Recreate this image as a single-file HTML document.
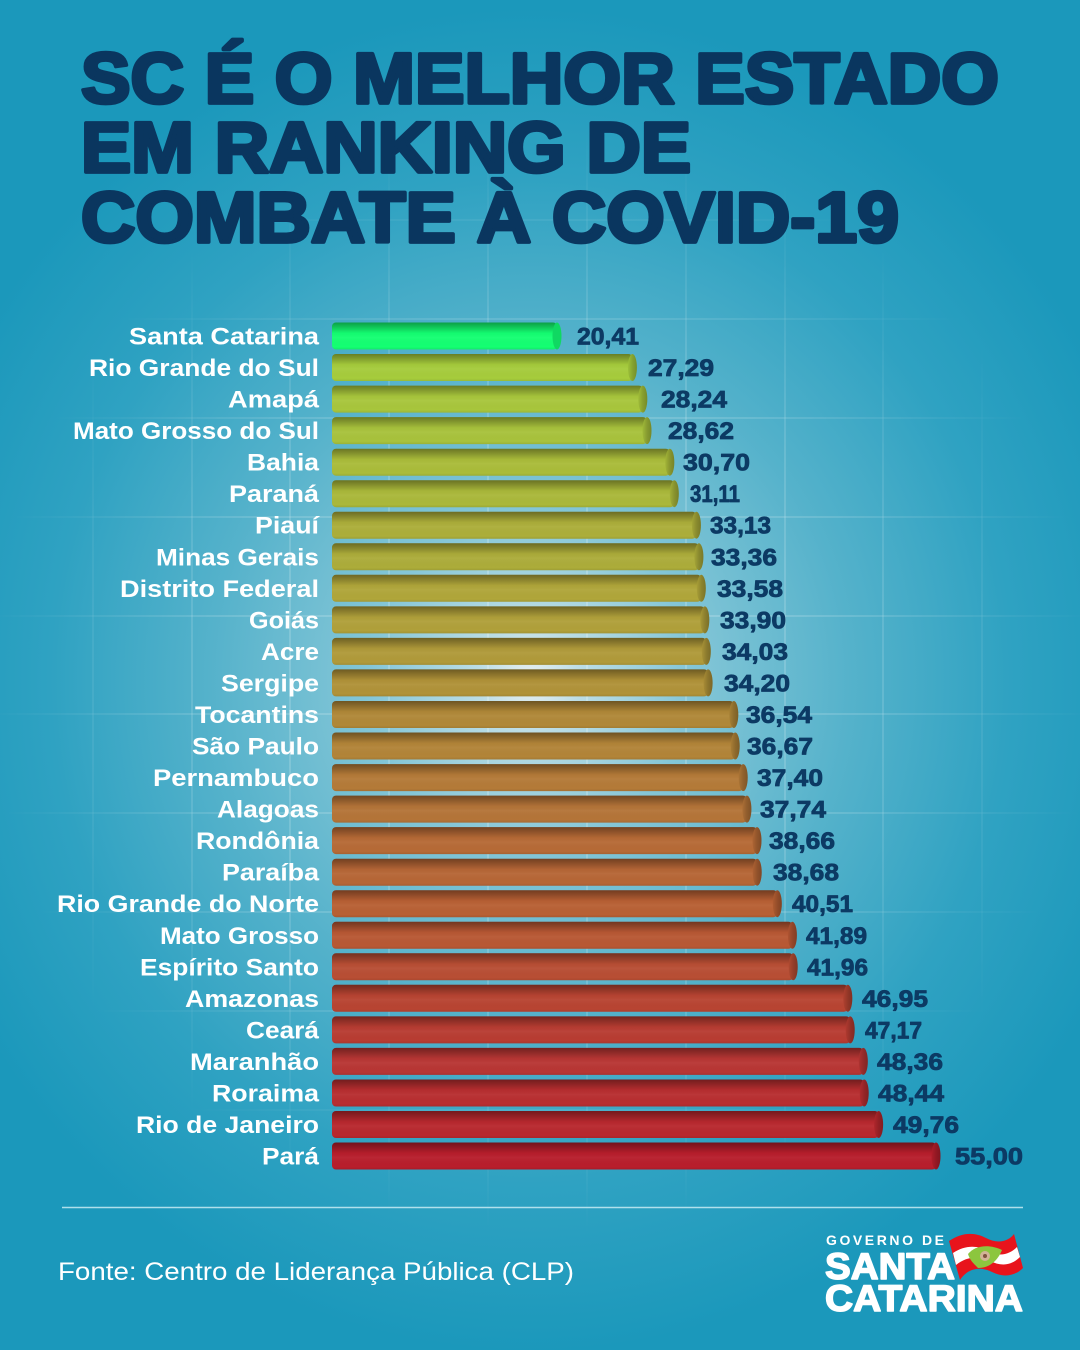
<!DOCTYPE html>
<html><head><meta charset="utf-8">
<style>
html,body{margin:0;padding:0;width:1080px;height:1350px;overflow:hidden;background:#1b98bb;}
svg{display:block;}
</style></head>
<body>
<svg width="1080" height="1350" viewBox="0 0 1080 1350" xmlns="http://www.w3.org/2000/svg">
<defs>
  <radialGradient id="bg" cx="530" cy="680" r="640" gradientUnits="userSpaceOnUse" gradientTransform="translate(530 680) scale(1 1.05) translate(-530 -680)">
    <stop offset="0" stop-color="#e8eff0"/>
    <stop offset="0.08" stop-color="#bcdde5"/>
    <stop offset="0.25" stop-color="#84c6d7"/>
    <stop offset="0.5" stop-color="#55b2cb"/>
    <stop offset="0.75" stop-color="#2fa2c2"/>
    <stop offset="1" stop-color="#1b98bb"/>
  </radialGradient>
  <radialGradient id="gm" cx="540" cy="680" r="560" gradientUnits="userSpaceOnUse">
    <stop offset="0" stop-color="#fff" stop-opacity="1"/>
    <stop offset="0.6" stop-color="#fff" stop-opacity="0.6"/>
    <stop offset="1" stop-color="#fff" stop-opacity="0"/>
  </radialGradient>
  <mask id="gridmask"><rect width="1080" height="1350" fill="url(#gm)"/></mask>
  <linearGradient id="shade" x1="0" y1="0" x2="0" y2="1">
    <stop offset="0" stop-color="#000" stop-opacity="0.38"/>
    <stop offset="0.4" stop-color="#000" stop-opacity="0.02"/>
    <stop offset="0.55" stop-color="#fff" stop-opacity="0.04"/>
    <stop offset="0.9" stop-color="#000" stop-opacity="0"/>
    <stop offset="1" stop-color="#000" stop-opacity="0.08"/>
  </linearGradient>
  <linearGradient id="capshade" x1="0" y1="0" x2="1" y2="0">
    <stop offset="0" stop-color="#000" stop-opacity="0.05"/>
    <stop offset="0.5" stop-color="#000" stop-opacity="0.2"/>
    <stop offset="1" stop-color="#000" stop-opacity="0.3"/>
  </linearGradient>
</defs>

<rect width="1080" height="1350" fill="url(#bg)"/>

<g mask="url(#gridmask)" stroke="#ffffff" stroke-opacity="0.3" stroke-width="1.5">
  <line x1="93" y1="0" x2="93" y2="1350"/>
  <line x1="192" y1="0" x2="192" y2="1350"/>
  <line x1="290" y1="0" x2="290" y2="1350"/>
  <line x1="389" y1="0" x2="389" y2="1350"/>
  <line x1="488" y1="0" x2="488" y2="1350"/>
  <line x1="587" y1="0" x2="587" y2="1350"/>
  <line x1="686" y1="0" x2="686" y2="1350"/>
  <line x1="785" y1="0" x2="785" y2="1350"/>
  <line x1="883" y1="0" x2="883" y2="1350"/>
  <line x1="982" y1="0" x2="982" y2="1350"/>
  <line x1="0" y1="121" x2="1080" y2="121"/>
  <line x1="0" y1="220" x2="1080" y2="220"/>
  <line x1="0" y1="319" x2="1080" y2="319"/>
  <line x1="0" y1="418" x2="1080" y2="418"/>
  <line x1="0" y1="517" x2="1080" y2="517"/>
  <line x1="0" y1="616" x2="1080" y2="616"/>
  <line x1="0" y1="714" x2="1080" y2="714"/>
  <line x1="0" y1="813" x2="1080" y2="813"/>
  <line x1="0" y1="912" x2="1080" y2="912"/>
  <line x1="0" y1="1011" x2="1080" y2="1011"/>
  <line x1="0" y1="1110" x2="1080" y2="1110"/>
</g>

<!-- Title -->
<g font-family="'Liberation Sans', sans-serif" font-weight="bold" font-size="71" fill="#0a365f" stroke="#0a365f" stroke-width="3.8" stroke-linejoin="round">
  <text x="81" y="103" textLength="918" lengthAdjust="spacingAndGlyphs">SC É O MELHOR ESTADO</text>
  <text x="81" y="172" textLength="610" lengthAdjust="spacingAndGlyphs">EM RANKING DE</text>
  <text x="81" y="242" textLength="818" lengthAdjust="spacingAndGlyphs">COMBATE À COVID-19</text>
</g>

<!-- Bars -->
<g id="bars">
  <g><rect x="332" y="322.5" width="225" height="27" rx="4" fill="#14ff72"/><rect x="332" y="322.5" width="225" height="27" rx="4" fill="url(#shade)"/><ellipse cx="557" cy="336" rx="4.5" ry="13.5" fill="#10d862"/></g>
  <g><rect x="332" y="354" width="300.4" height="27" rx="4" fill="#a6cc3c"/><rect x="332" y="354" width="300.4" height="27" rx="4" fill="url(#shade)"/><ellipse cx="632.4" cy="367.5" rx="4.5" ry="13.5" fill="#a6cc3c"/><ellipse cx="632.4" cy="367.5" rx="4.5" ry="13.5" fill="url(#capshade)"/></g>
  <g><rect x="332" y="385.6" width="310.8" height="27" rx="4" fill="#a8c63c"/><rect x="332" y="385.6" width="310.8" height="27" rx="4" fill="url(#shade)"/><ellipse cx="642.8" cy="399.1" rx="4.5" ry="13.5" fill="#a8c63c"/><ellipse cx="642.8" cy="399.1" rx="4.5" ry="13.5" fill="url(#capshade)"/></g>
  <g><rect x="332" y="417.1" width="315" height="27" rx="4" fill="#a8c23c"/><rect x="332" y="417.1" width="315" height="27" rx="4" fill="url(#shade)"/><ellipse cx="647" cy="430.6" rx="4.5" ry="13.5" fill="#a8c23c"/><ellipse cx="647" cy="430.6" rx="4.5" ry="13.5" fill="url(#capshade)"/></g>
  <g><rect x="332" y="448.7" width="337.8" height="27" rx="4" fill="#aabc3a"/><rect x="332" y="448.7" width="337.8" height="27" rx="4" fill="url(#shade)"/><ellipse cx="669.8" cy="462.2" rx="4.5" ry="13.5" fill="#aabc3a"/><ellipse cx="669.8" cy="462.2" rx="4.5" ry="13.5" fill="url(#capshade)"/></g>
  <g><rect x="332" y="480.2" width="342.3" height="27" rx="4" fill="#aab83a"/><rect x="332" y="480.2" width="342.3" height="27" rx="4" fill="url(#shade)"/><ellipse cx="674.3" cy="493.7" rx="4.5" ry="13.5" fill="#aab83a"/><ellipse cx="674.3" cy="493.7" rx="4.5" ry="13.5" fill="url(#capshade)"/></g>
  <g><rect x="332" y="511.7" width="364.4" height="27" rx="4" fill="#acae3a"/><rect x="332" y="511.7" width="364.4" height="27" rx="4" fill="url(#shade)"/><ellipse cx="696.4" cy="525.2" rx="4.5" ry="13.5" fill="#acae3a"/><ellipse cx="696.4" cy="525.2" rx="4.5" ry="13.5" fill="url(#capshade)"/></g>
  <g><rect x="332" y="543.3" width="366.9" height="27" rx="4" fill="#acac3a"/><rect x="332" y="543.3" width="366.9" height="27" rx="4" fill="url(#shade)"/><ellipse cx="698.9" cy="556.8" rx="4.5" ry="13.5" fill="#acac3a"/><ellipse cx="698.9" cy="556.8" rx="4.5" ry="13.5" fill="url(#capshade)"/></g>
  <g><rect x="332" y="574.8" width="369.3" height="27" rx="4" fill="#b0a63a"/><rect x="332" y="574.8" width="369.3" height="27" rx="4" fill="url(#shade)"/><ellipse cx="701.3" cy="588.3" rx="4.5" ry="13.5" fill="#b0a63a"/><ellipse cx="701.3" cy="588.3" rx="4.5" ry="13.5" fill="url(#capshade)"/></g>
  <g><rect x="332" y="606.4" width="372.8" height="27" rx="4" fill="#b0a03a"/><rect x="332" y="606.4" width="372.8" height="27" rx="4" fill="url(#shade)"/><ellipse cx="704.8" cy="619.9" rx="4.5" ry="13.5" fill="#b0a03a"/><ellipse cx="704.8" cy="619.9" rx="4.5" ry="13.5" fill="url(#capshade)"/></g>
  <g><rect x="332" y="637.9" width="374.3" height="27" rx="4" fill="#b09a3a"/><rect x="332" y="637.9" width="374.3" height="27" rx="4" fill="url(#shade)"/><ellipse cx="706.3" cy="651.4" rx="4.5" ry="13.5" fill="#b09a3a"/><ellipse cx="706.3" cy="651.4" rx="4.5" ry="13.5" fill="url(#capshade)"/></g>
  <g><rect x="332" y="669.4" width="376.1" height="27" rx="4" fill="#b09238"/><rect x="332" y="669.4" width="376.1" height="27" rx="4" fill="url(#shade)"/><ellipse cx="708.1" cy="682.9" rx="4.5" ry="13.5" fill="#b09238"/><ellipse cx="708.1" cy="682.9" rx="4.5" ry="13.5" fill="url(#capshade)"/></g>
  <g><rect x="332" y="701" width="401.8" height="27" rx="4" fill="#b08838"/><rect x="332" y="701" width="401.8" height="27" rx="4" fill="url(#shade)"/><ellipse cx="733.8" cy="714.5" rx="4.5" ry="13.5" fill="#b08838"/><ellipse cx="733.8" cy="714.5" rx="4.5" ry="13.5" fill="url(#capshade)"/></g>
  <g><rect x="332" y="732.5" width="403.2" height="27" rx="4" fill="#b28438"/><rect x="332" y="732.5" width="403.2" height="27" rx="4" fill="url(#shade)"/><ellipse cx="735.2" cy="746" rx="4.5" ry="13.5" fill="#b28438"/><ellipse cx="735.2" cy="746" rx="4.5" ry="13.5" fill="url(#capshade)"/></g>
  <g><rect x="332" y="764.1" width="411.2" height="27" rx="4" fill="#b47a38"/><rect x="332" y="764.1" width="411.2" height="27" rx="4" fill="url(#shade)"/><ellipse cx="743.2" cy="777.6" rx="4.5" ry="13.5" fill="#b47a38"/><ellipse cx="743.2" cy="777.6" rx="4.5" ry="13.5" fill="url(#capshade)"/></g>
  <g><rect x="332" y="795.6" width="414.9" height="27" rx="4" fill="#b47438"/><rect x="332" y="795.6" width="414.9" height="27" rx="4" fill="url(#shade)"/><ellipse cx="746.9" cy="809.1" rx="4.5" ry="13.5" fill="#b47438"/><ellipse cx="746.9" cy="809.1" rx="4.5" ry="13.5" fill="url(#capshade)"/></g>
  <g><rect x="332" y="827.1" width="425" height="27" rx="4" fill="#b66a36"/><rect x="332" y="827.1" width="425" height="27" rx="4" fill="url(#shade)"/><ellipse cx="757" cy="840.6" rx="4.5" ry="13.5" fill="#b66a36"/><ellipse cx="757" cy="840.6" rx="4.5" ry="13.5" fill="url(#capshade)"/></g>
  <g><rect x="332" y="858.7" width="425.2" height="27" rx="4" fill="#b66636"/><rect x="332" y="858.7" width="425.2" height="27" rx="4" fill="url(#shade)"/><ellipse cx="757.2" cy="872.2" rx="4.5" ry="13.5" fill="#b66636"/><ellipse cx="757.2" cy="872.2" rx="4.5" ry="13.5" fill="url(#capshade)"/></g>
  <g><rect x="332" y="890.2" width="445.3" height="27" rx="4" fill="#b86034"/><rect x="332" y="890.2" width="445.3" height="27" rx="4" fill="url(#shade)"/><ellipse cx="777.3" cy="903.7" rx="4.5" ry="13.5" fill="#b86034"/><ellipse cx="777.3" cy="903.7" rx="4.5" ry="13.5" fill="url(#capshade)"/></g>
  <g><rect x="332" y="921.8" width="460.4" height="27" rx="4" fill="#b85834"/><rect x="332" y="921.8" width="460.4" height="27" rx="4" fill="url(#shade)"/><ellipse cx="792.4" cy="935.3" rx="4.5" ry="13.5" fill="#b85834"/><ellipse cx="792.4" cy="935.3" rx="4.5" ry="13.5" fill="url(#capshade)"/></g>
  <g><rect x="332" y="953.3" width="461.2" height="27" rx="4" fill="#b84e34"/><rect x="332" y="953.3" width="461.2" height="27" rx="4" fill="url(#shade)"/><ellipse cx="793.2" cy="966.8" rx="4.5" ry="13.5" fill="#b84e34"/><ellipse cx="793.2" cy="966.8" rx="4.5" ry="13.5" fill="url(#capshade)"/></g>
  <g><rect x="332" y="984.8" width="515.8" height="27" rx="4" fill="#b84432"/><rect x="332" y="984.8" width="515.8" height="27" rx="4" fill="url(#shade)"/><ellipse cx="847.8" cy="998.3" rx="4.5" ry="13.5" fill="#b84432"/><ellipse cx="847.8" cy="998.3" rx="4.5" ry="13.5" fill="url(#capshade)"/></g>
  <g><rect x="332" y="1016.4" width="518.2" height="27" rx="4" fill="#b83c32"/><rect x="332" y="1016.4" width="518.2" height="27" rx="4" fill="url(#shade)"/><ellipse cx="850.2" cy="1029.9" rx="4.5" ry="13.5" fill="#b83c32"/><ellipse cx="850.2" cy="1029.9" rx="4.5" ry="13.5" fill="url(#capshade)"/></g>
  <g><rect x="332" y="1047.9" width="531.3" height="27" rx="4" fill="#b83634"/><rect x="332" y="1047.9" width="531.3" height="27" rx="4" fill="url(#shade)"/><ellipse cx="863.3" cy="1061.4" rx="4.5" ry="13.5" fill="#b83634"/><ellipse cx="863.3" cy="1061.4" rx="4.5" ry="13.5" fill="url(#capshade)"/></g>
  <g><rect x="332" y="1079.5" width="532.2" height="27" rx="4" fill="#b82e30"/><rect x="332" y="1079.5" width="532.2" height="27" rx="4" fill="url(#shade)"/><ellipse cx="864.2" cy="1093" rx="4.5" ry="13.5" fill="#b82e30"/><ellipse cx="864.2" cy="1093" rx="4.5" ry="13.5" fill="url(#capshade)"/></g>
  <g><rect x="332" y="1111" width="546.6" height="27" rx="4" fill="#b8282e"/><rect x="332" y="1111" width="546.6" height="27" rx="4" fill="url(#shade)"/><ellipse cx="878.6" cy="1124.5" rx="4.5" ry="13.5" fill="#b8282e"/><ellipse cx="878.6" cy="1124.5" rx="4.5" ry="13.5" fill="url(#capshade)"/></g>
  <g><rect x="332" y="1142.5" width="604" height="27" rx="4" fill="#b81e2c"/><rect x="332" y="1142.5" width="604" height="27" rx="4" fill="url(#shade)"/><ellipse cx="936" cy="1156" rx="4.5" ry="13.5" fill="#b81e2c"/><ellipse cx="936" cy="1156" rx="4.5" ry="13.5" fill="url(#capshade)"/></g>
</g>

<!-- Labels -->
<g font-family="'Liberation Sans', sans-serif" font-weight="bold" font-size="24" fill="#ffffff" text-anchor="end">
  <text x="319" y="344.5" textLength="190" lengthAdjust="spacingAndGlyphs">Santa Catarina</text>
  <text x="319" y="376" textLength="230" lengthAdjust="spacingAndGlyphs">Rio Grande do Sul</text>
  <text x="319" y="407.6" textLength="91" lengthAdjust="spacingAndGlyphs">Amapá</text>
  <text x="319" y="439.1" textLength="246" lengthAdjust="spacingAndGlyphs">Mato Grosso do Sul</text>
  <text x="319" y="470.7" textLength="72" lengthAdjust="spacingAndGlyphs">Bahia</text>
  <text x="319" y="502.2" textLength="90" lengthAdjust="spacingAndGlyphs">Paraná</text>
  <text x="319" y="533.7" textLength="64" lengthAdjust="spacingAndGlyphs">Piauí</text>
  <text x="319" y="565.3" textLength="163" lengthAdjust="spacingAndGlyphs">Minas Gerais</text>
  <text x="319" y="596.8" textLength="199" lengthAdjust="spacingAndGlyphs">Distrito Federal</text>
  <text x="319" y="628.4" textLength="70" lengthAdjust="spacingAndGlyphs">Goiás</text>
  <text x="319" y="659.9" textLength="58" lengthAdjust="spacingAndGlyphs">Acre</text>
  <text x="319" y="691.4" textLength="98" lengthAdjust="spacingAndGlyphs">Sergipe</text>
  <text x="319" y="723" textLength="124" lengthAdjust="spacingAndGlyphs">Tocantins</text>
  <text x="319" y="754.5" textLength="127" lengthAdjust="spacingAndGlyphs">São Paulo</text>
  <text x="319" y="786.1" textLength="166" lengthAdjust="spacingAndGlyphs">Pernambuco</text>
  <text x="319" y="817.6" textLength="102" lengthAdjust="spacingAndGlyphs">Alagoas</text>
  <text x="319" y="849.1" textLength="123" lengthAdjust="spacingAndGlyphs">Rondônia</text>
  <text x="319" y="880.7" textLength="97" lengthAdjust="spacingAndGlyphs">Paraíba</text>
  <text x="319" y="912.2" textLength="262" lengthAdjust="spacingAndGlyphs">Rio Grande do Norte</text>
  <text x="319" y="943.8" textLength="159" lengthAdjust="spacingAndGlyphs">Mato Grosso</text>
  <text x="319" y="975.3" textLength="179" lengthAdjust="spacingAndGlyphs">Espírito Santo</text>
  <text x="319" y="1006.8" textLength="134" lengthAdjust="spacingAndGlyphs">Amazonas</text>
  <text x="319" y="1038.4" textLength="73" lengthAdjust="spacingAndGlyphs">Ceará</text>
  <text x="319" y="1069.9" textLength="129" lengthAdjust="spacingAndGlyphs">Maranhão</text>
  <text x="319" y="1101.5" textLength="107" lengthAdjust="spacingAndGlyphs">Roraima</text>
  <text x="319" y="1133" textLength="183" lengthAdjust="spacingAndGlyphs">Rio de Janeiro</text>
  <text x="319" y="1164.5" textLength="57" lengthAdjust="spacingAndGlyphs">Pará</text>
</g>

<!-- Values -->
<g font-family="'Liberation Sans', sans-serif" font-weight="bold" font-size="24" fill="#0c3a64" stroke="#0c3a64" stroke-width="0.8" stroke-linejoin="round">
  <text x="577" y="344.5" textLength="62" lengthAdjust="spacingAndGlyphs">20,41</text>
  <text x="648" y="376" textLength="66" lengthAdjust="spacingAndGlyphs">27,29</text>
  <text x="661" y="407.6" textLength="66" lengthAdjust="spacingAndGlyphs">28,24</text>
  <text x="668" y="439.1" textLength="66" lengthAdjust="spacingAndGlyphs">28,62</text>
  <text x="683" y="470.7" textLength="67" lengthAdjust="spacingAndGlyphs">30,70</text>
  <text x="690" y="502.2" textLength="50" lengthAdjust="spacingAndGlyphs">31,11</text>
  <text x="710" y="533.7" textLength="61" lengthAdjust="spacingAndGlyphs">33,13</text>
  <text x="711" y="565.3" textLength="66" lengthAdjust="spacingAndGlyphs">33,36</text>
  <text x="717" y="596.8" textLength="66" lengthAdjust="spacingAndGlyphs">33,58</text>
  <text x="720" y="628.4" textLength="66" lengthAdjust="spacingAndGlyphs">33,90</text>
  <text x="722" y="659.9" textLength="66" lengthAdjust="spacingAndGlyphs">34,03</text>
  <text x="724" y="691.4" textLength="66" lengthAdjust="spacingAndGlyphs">34,20</text>
  <text x="746" y="723" textLength="66" lengthAdjust="spacingAndGlyphs">36,54</text>
  <text x="747" y="754.5" textLength="66" lengthAdjust="spacingAndGlyphs">36,67</text>
  <text x="757" y="786.1" textLength="66" lengthAdjust="spacingAndGlyphs">37,40</text>
  <text x="760" y="817.6" textLength="66" lengthAdjust="spacingAndGlyphs">37,74</text>
  <text x="769" y="849.1" textLength="66" lengthAdjust="spacingAndGlyphs">38,66</text>
  <text x="773" y="880.7" textLength="66" lengthAdjust="spacingAndGlyphs">38,68</text>
  <text x="792" y="912.2" textLength="61" lengthAdjust="spacingAndGlyphs">40,51</text>
  <text x="806" y="943.8" textLength="61" lengthAdjust="spacingAndGlyphs">41,89</text>
  <text x="807" y="975.3" textLength="61" lengthAdjust="spacingAndGlyphs">41,96</text>
  <text x="862" y="1006.8" textLength="66" lengthAdjust="spacingAndGlyphs">46,95</text>
  <text x="865" y="1038.4" textLength="57" lengthAdjust="spacingAndGlyphs">47,17</text>
  <text x="877" y="1069.9" textLength="66" lengthAdjust="spacingAndGlyphs">48,36</text>
  <text x="878" y="1101.5" textLength="66" lengthAdjust="spacingAndGlyphs">48,44</text>
  <text x="893" y="1133" textLength="66" lengthAdjust="spacingAndGlyphs">49,76</text>
  <text x="955" y="1164.5" textLength="68" lengthAdjust="spacingAndGlyphs">55,00</text>
</g>

<!-- Footer -->
<line x1="62" y1="1207.5" x2="1023" y2="1207.5" stroke="#c8ebf3" stroke-width="1.6" stroke-opacity="0.85"/>
<text x="58" y="1280" font-family="'Liberation Sans', sans-serif" font-size="25" fill="#ffffff" textLength="516" lengthAdjust="spacingAndGlyphs">Fonte: Centro de Liderança Pública (CLP)</text>

<!-- Logo -->
<g font-family="'Liberation Sans', sans-serif" font-weight="bold" fill="#ffffff">
  <text x="826" y="1245" font-size="14" textLength="118" lengthAdjust="spacing">GOVERNO DE</text>
  <text x="825" y="1279" font-size="37" stroke="#ffffff" stroke-width="1.5" stroke-linejoin="round" textLength="130" lengthAdjust="spacingAndGlyphs">SANTA</text>
  <text x="825" y="1311" font-size="37" stroke="#ffffff" stroke-width="1.5" stroke-linejoin="round" textLength="198" lengthAdjust="spacingAndGlyphs">CATARINA</text>
</g>
<g>
  <path d="M949,1241 C962,1232 975,1232 986,1238 C997,1244 1008,1242 1014,1234 L1023,1268 C1015,1276 1004,1278 992,1272 C980,1266 968,1268 960,1280 Z" fill="#e8141c"/>
  <path d="M953,1253 C965,1245 977,1245 988,1251 C999,1257 1009,1255 1017,1247 L1020,1257 C1012,1265 1002,1267 990,1261 C978,1255 966,1257 956,1265 Z" fill="#ffffff"/>
  <path d="M968,1254 C975,1245 990,1244 1002,1250 C998,1260 990,1268 978,1268 C972,1262 970,1260 968,1254 Z" fill="#8cc63e"/>
  <circle cx="985" cy="1256" r="5" fill="#d8b0a0" opacity="0.9"/>
  <circle cx="985" cy="1256" r="2" fill="#6a3a2a" opacity="0.8"/>
</g>
</svg>
</body></html>
